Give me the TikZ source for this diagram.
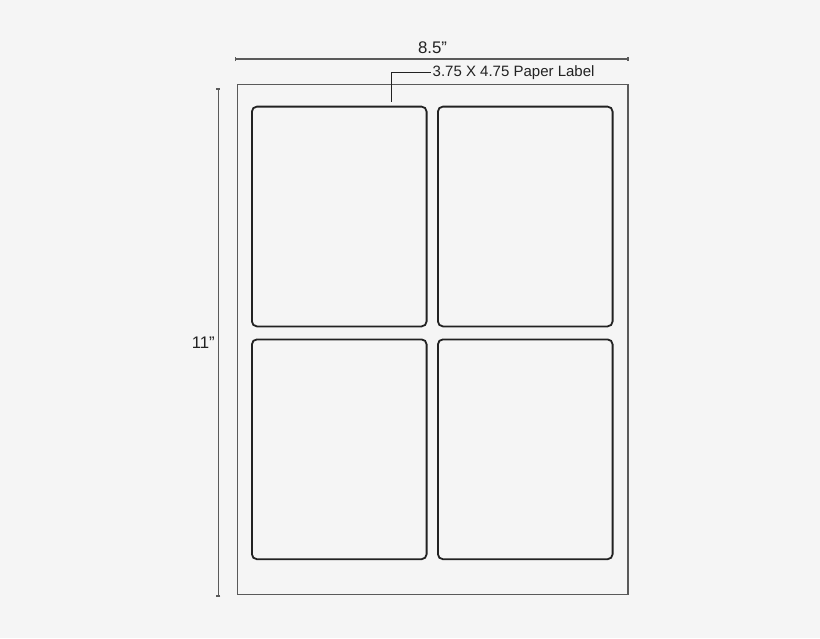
\documentclass[tikz,border=0pt]{standalone}
\usepackage{fontspec}
\setmainfont{Liberation Sans}
\usetikzlibrary{arrows.meta}
\definecolor{bg}{HTML}{F5F5F5}
\definecolor{sheetc}{HTML}{5A5A5A}
\definecolor{labc}{HTML}{222222}
\begin{document}
\begin{tikzpicture}[x=1pt,y=-1pt,
  sheetbox/.style={draw=sheetc,line width=1.5pt,inner sep=0pt,minimum width=390.5pt,minimum height=510pt,anchor=north west},
  labelbox/.style={draw=labc,line width=1.8pt,rounded corners=5pt,inner sep=0pt,minimum width=174.7pt,minimum height=219.8pt,anchor=north west},
  dimline/.style={draw=sheetc,line width=1.3pt,{Bar[width=4pt]}-{Bar[width=4pt]}},
  leader/.style={draw=labc,line width=1.2pt},
  dimtext/.style={font=\fontsize{16.8}{18}\selectfont,text=labc,inner sep=1pt},
  smalltext/.style={font=\fontsize{15}{16}\selectfont,text=labc,inner sep=2pt}]
\useasboundingbox[fill=bg] (0,0) rectangle (820,638);
\node[sheetbox] (sheet) at (236.5,83.5) {};
\node[labelbox] (l1) at (251,105.7) {};
\node[labelbox] (l2) at (437,105.7) {};
\node[labelbox] (l3) at (251,338.5) {};
\node[labelbox] (l4) at (437,338.5) {};
\coordinate (dl) at (235,59);
\coordinate (dr) at (628.5,59);
\draw[dimline] (dl) -- (dr);
\node[dimtext] (w) at (432.5,47.5) {8.5”};
\coordinate (vt) at (218.3,88.3);
\coordinate (vb) at (218.3,596.5);
\draw[dimline] (vt) -- (vb);
\node[dimtext,anchor=east] (h) at (216,343) {11”};
\node[smalltext,anchor=west] (t) at (430.5,72.5) {3.75 X 4.75 Paper Label};
\coordinate (lead) at (391.7,101.7);
\draw[leader] (lead) |- (t.west);
\end{tikzpicture}
\end{document}
